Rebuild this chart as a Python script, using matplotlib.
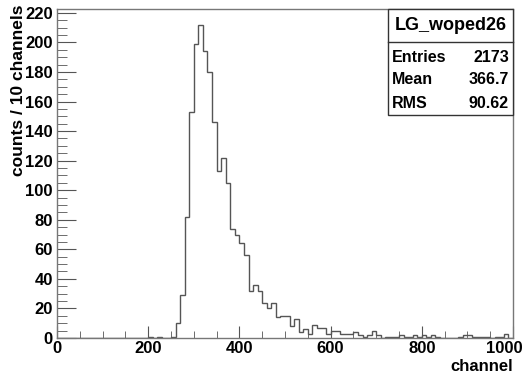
import numpy as np
import matplotlib
matplotlib.use("Agg")
import matplotlib.pyplot as plt
from matplotlib.patches import Rectangle
from matplotlib.lines import Line2D
from matplotlib.ticker import MultipleLocator, FuncFormatter

plt.rcParams["font.family"] = ["Liberation Sans", "DejaVu Sans"]
plt.rcParams["font.weight"] = "bold"

# histogram: 100 bins of 10 channels from 0 to 1000
bin_edges = np.arange(0, 1001, 10)
counts = [
    0, 0, 0, 0, 0, 0, 0, 0, 0, 0,
    0, 0, 0, 0, 0, 0, 0, 0, 0, 0,
    1, 0, 1, 0, 0, 1, 10, 29, 82, 153,
    199, 212, 194, 180, 146, 113, 122, 105, 74, 70,
    64, 56, 32, 36, 32, 24, 20, 24, 14, 15,
    15, 8, 13, 4, 6, 3, 9, 7, 7, 3,
    5, 5, 3, 3, 3, 4, 2, 1, 2, 5,
    2, 0, 1, 1, 1, 2, 1, 1, 2, 1,
    2, 1, 2, 1, 0, 0, 0, 0, 1, 2,
    2, 1, 1, 1, 1, 0, 1, 1, 3, 0,
]

hist_name = "LG_woped26"
stat_labels = ["Entries", "Mean", "RMS"]
stat_values = ["2173", "366.7", "90.62"]

W, H = 525, 378
fig = plt.figure(figsize=(W / 100, H / 100), dpi=100)
ax = fig.add_axes([57 / W, (H - 338) / H, 456 / W, 329 / H])

line_col = "#555555"
ax.stairs(counts, bin_edges, color=line_col, lw=1.0, baseline=0)

ax.set_xlim(0, 1000)
ax.set_ylim(0, 1.05 * max(counts))

for s in ax.spines.values():
    s.set_color("#777777")
    s.set_linewidth(1.0)

ax.xaxis.set_major_locator(MultipleLocator(200))
ax.xaxis.set_minor_locator(MultipleLocator(50))
ax.yaxis.set_major_locator(MultipleLocator(20))
ax.yaxis.set_minor_locator(MultipleLocator(5))
# last x label is drawn separately, pulled left so it stays on the canvas
ax.xaxis.set_major_formatter(FuncFormatter(lambda v, p: "" if v >= 1000 else f"{v:.0f}"))
ax.tick_params(axis="x", which="major", direction="in", length=9, color="#555555",
               labelsize=12, pad=2, top=False)
ax.tick_params(axis="x", which="minor", direction="in", length=5, color="#555555", top=False)
ax.tick_params(axis="y", which="major", direction="in", length=14, color="#555555",
               labelsize=12, pad=3, right=False)
ax.tick_params(axis="y", which="minor", direction="in", length=7, color="#555555", right=False)
for lab in ax.get_xticklabels() + ax.get_yticklabels():
    lab.set_fontweight("bold")
ax.annotate("1000", xy=(1000, 0), xycoords=("data", "axes fraction"),
            xytext=(10, -3), textcoords="offset pixels", ha="right", va="top",
            fontsize=12, fontweight="bold", annotation_clip=False)

ax.set_xlabel("channel", fontsize=12, fontweight="bold", loc="right")
ax.xaxis.set_label_coords(1.0, -0.065)
ax.set_ylabel("counts / 10 channels", fontsize=12.5, fontweight="bold", loc="top")
ax.yaxis.set_label_coords(-0.068, 1.015)

# stats box
def fx(px):
    return px / W

def fy(py):
    return 1 - py / H

bx0, bx1, by0, by1 = 388, 513, 9, 115
fig.add_artist(Rectangle((fx(bx0), fy(by1)), fx(bx1) - fx(bx0), fy(by0) - fy(by1),
                         transform=fig.transFigure, facecolor="white",
                         edgecolor="#333333", lw=1.0, zorder=5))
fig.add_artist(Line2D([fx(bx0), fx(bx1)], [fy(42), fy(42)], transform=fig.transFigure,
                      color="#333333", lw=1.0, zorder=6))
fig.text(fx((bx0 + bx1) / 2), fy(25), hist_name, ha="center", va="center",
         fontsize=13, fontweight="bold", zorder=7)
row_y = [57, 80, 103]
for lab, val, yy in zip(stat_labels, stat_values, row_y):
    fig.text(fx(392), fy(yy), lab, ha="left", va="center", fontsize=11.5,
             fontweight="bold", zorder=7)
    fig.text(fx(509), fy(yy), val, ha="right", va="center", fontsize=11.5,
             fontweight="bold", zorder=7)

fig.savefig("out.png", dpi=100)
